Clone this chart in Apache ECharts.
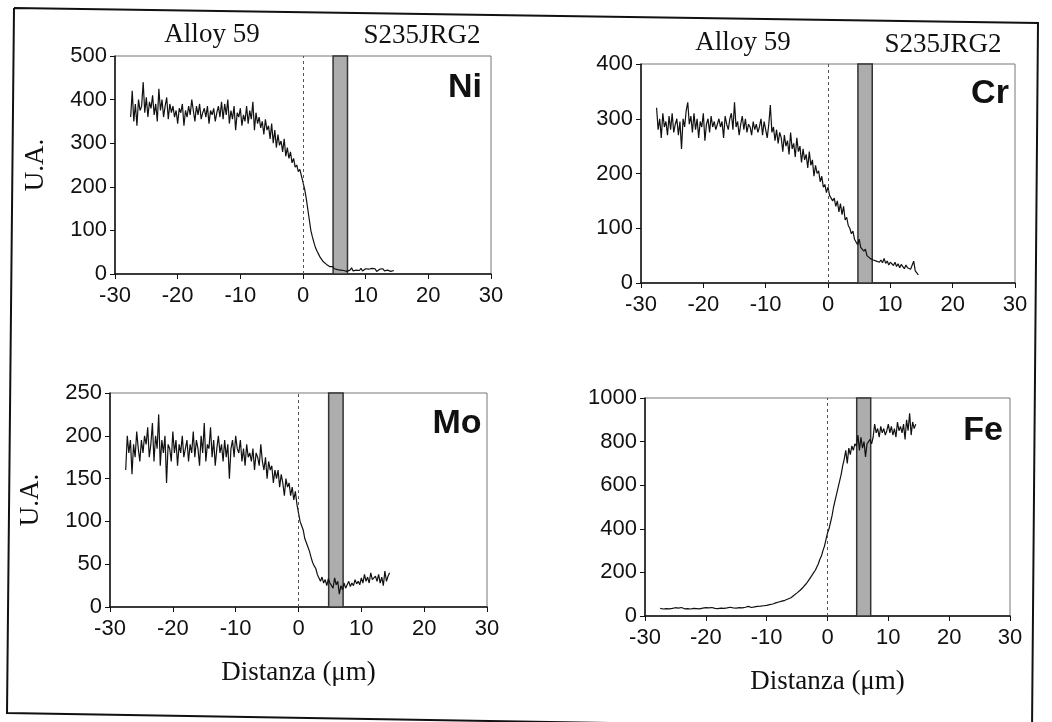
<!DOCTYPE html>
<html>
<head>
<meta charset="utf-8">
<script src="https://cdn.jsdelivr.net/npm/echarts@6/dist/echarts.min.js"></script>
<style>
html,body{margin:0;padding:0;background:#fff;}
#chart{width:1052px;height:722px;}
</style>
</head>
<body>
<div id="chart"></div>
<script>
// Sampled distance (µm)
const distance = [
-27.5,-27.25,-27,-26.75,-26.5,-26.25,-26,-25.75,
-25.5,-25.25,-25,-24.75,-24.5,-24.25,-24,-23.75,
-23.5,-23.25,-23,-22.75,-22.5,-22.25,-22,-21.75,
-21.5,-21.25,-21,-20.75,-20.5,-20.25,-20,-19.75,
-19.5,-19.25,-19,-18.75,-18.5,-18.25,-18,-17.75,
-17.5,-17.25,-17,-16.75,-16.5,-16.25,-16,-15.75,
-15.5,-15.25,-15,-14.75,-14.5,-14.25,-14,-13.75,
-13.5,-13.25,-13,-12.75,-12.5,-12.25,-12,-11.75,
-11.5,-11.25,-11,-10.75,-10.5,-10.25,-10,-9.75,
-9.5,-9.25,-9,-8.75,-8.5,-8.25,-8,-7.75,
-7.5,-7.25,-7,-6.75,-6.5,-6.25,-6,-5.75,
-5.5,-5.25,-5,-4.75,-4.5,-4.25,-4,-3.75,
-3.5,-3.25,-3,-2.75,-2.5,-2.25,-2,-1.75,
-1.5,-1.25,-1,-0.75,-0.5,-0.25,0,0.25,
0.5,0.75,1,1.25,1.5,1.75,2,2.25,
2.5,2.75,3,3.25,3.5,3.75,4,4.25,
4.5,4.75,5,5.25,5.5,5.75,6,6.25,
6.5,6.75,7,7.25,7.5,7.75,8,8.25,
8.5,8.75,9,9.25,9.5,9.75,10,10.25,
10.5,10.75,11,11.25,11.5,11.75,12,12.25,
12.5,12.75,13,13.25,13.5,13.75,14,14.25,
14.5];

const niValues = [
360,420,350,390,340,400,375,385,
440,370,405,360,395,380,410,365,
390,350,425,375,400,360,385,405,
355,390,370,385,360,375,345,380,
370,390,340,375,360,385,365,400,
375,350,385,365,390,355,370,380,
360,385,345,375,365,380,350,370,
385,360,395,355,390,365,400,345,
375,355,385,330,370,360,380,340,
365,350,385,345,375,355,395,330,
370,345,360,335,350,320,355,330,
340,310,345,300,330,290,320,295,
305,280,310,270,290,265,280,255,
265,245,250,235,240,225,210,195,
175,150,125,100,85,72,60,52,
45,38,33,28,25,22,19,17,
15,17,12,14,10,13,9,11,
8,12,6,10,9,14,7,11,
9,12,8,13,7,10,12,8,
11,7,13,9,12,6,10,11,
8,12,7,10,9,11,6,9,
8];

const crValues = [
320,280,300,265,310,285,295,270,
305,280,310,275,290,300,270,295,
245,300,285,315,330,290,305,275,
310,280,300,265,295,285,310,260,
290,300,275,305,285,295,280,290,
300,285,295,265,305,290,280,300,
310,280,330,285,295,270,290,305,
280,300,275,290,285,270,295,280,
290,275,285,300,270,295,280,265,
290,325,275,285,260,280,255,275,
265,240,270,250,260,235,275,245,
255,230,265,240,250,220,245,225,
235,210,240,215,225,195,215,200,
205,185,195,175,180,165,175,160,
160,150,155,140,150,130,145,125,
140,115,120,105,100,90,95,80,
75,70,80,65,68,58,62,50,
52,45,48,42,45,40,43,38,
42,37,45,36,40,33,38,35,
32,38,30,35,28,34,30,26,
33,28,30,25,28,40,22,24,
15];

const moValues = [
160,200,180,195,155,190,175,205,
185,170,195,180,200,190,210,175,
190,215,170,200,185,225,165,195,
180,200,145,190,185,170,205,180,
195,165,190,180,200,175,185,195,
170,190,180,205,175,195,185,165,
200,180,215,170,190,185,210,175,
195,165,185,200,180,190,170,195,
175,190,150,185,195,175,200,185,
180,195,170,185,165,190,175,180,
170,185,160,180,175,165,190,170,
160,175,150,170,160,165,145,160,
150,160,140,155,145,130,150,140,
145,130,140,125,135,120,110,100,
95,90,80,78,70,65,58,52,
48,45,38,40,30,35,28,32,
25,33,28,30,22,34,26,30,
15,25,20,28,22,26,30,24,
28,25,32,27,30,26,34,28,
38,30,35,28,40,32,30,36,
30,38,28,35,25,42,30,36,
40];

const feValues = [
35,38,32,36,34,40,33,37,
35,31,38,34,36,32,39,35,
33,37,34,38,32,36,35,38,
34,37,33,39,36,34,38,35,
37,34,39,36,35,40,34,38,
36,39,35,41,37,34,40,38,
37,40,36,42,38,41,37,43,
40,38,44,41,39,45,42,46,
44,48,45,50,47,52,49,55,
52,58,55,62,60,66,64,70,
68,75,72,80,78,86,84,92,
95,100,106,112,118,126,132,140,
148,158,165,178,185,200,210,225,
240,260,275,300,320,350,380,400,
430,460,500,530,560,590,620,650,
690,720,760,700,770,740,780,760,
790,780,830,760,820,770,800,730,
790,800,810,790,820,880,840,860,
820,870,840,860,830,850,880,840,
870,830,860,820,890,850,870,840,
880,810,900,850,930,830,890,860,
880];

const xTicks = [-30, -20, -10, 0, 10, 20, 30];
const interfaceBand = [4.8, 7.1];   // grey band (µm)
const interfaceLine = [0];          // dashed line (µm)
const elements = ['Ni', 'Cr', 'Mo', 'Fe'];
const yMax = [500, 400, 250, 1000];
const yStep = [100, 100, 50, 200];
const topLabels = ['Alloy 59', 'S235JRG2'];
const yName = 'U.A.';
const xName = 'Distanza (\u03bcm)';

const seriesValues = [niValues, crValues, moValues, feValues];

const grids = [
  {left: 115, top: 56, width: 376, height: 218},
  {left: 641, top: 64, width: 374, height: 219},
  {left: 110, top: 393, width: 377, height: 214},
  {left: 645, top: 398, width: 365, height: 218}
];

const sansFont = '"Liberation Sans", Arial, sans-serif';
const serifFont = '"Liberation Serif", "Times New Roman", serif';

const option = {
  animation: false,
  backgroundColor: '#fff',
  grid: grids.map(g => Object.assign({show: true, borderColor: '#777', borderWidth: 1, backgroundColor: 'transparent'}, g)),
  xAxis: grids.map((g, i) => ({
    type: 'value', gridIndex: i,
    min: xTicks[0], max: xTicks[xTicks.length - 1], interval: 10,
    axisLine: {onZero: false, lineStyle: {color: '#111', width: 1.5}},
    axisTick: {show: true, length: 5, lineStyle: {color: '#111'}},
    splitLine: {show: false},
    axisLabel: {color: '#111', fontSize: 22, fontFamily: sansFont, margin: 11},
    name: i >= 2 ? xName : '',
    nameLocation: 'middle', nameGap: 52,
    nameTextStyle: {fontFamily: serifFont, fontSize: 27, color: '#111'}
  })),
  yAxis: grids.map((g, i) => ({
    type: 'value', gridIndex: i,
    min: 0, max: yMax[i], interval: yStep[i],
    axisLine: {show: true, onZero: false, lineStyle: {color: '#111', width: 1.5}},
    axisTick: {show: true, length: 5, lineStyle: {color: '#111'}},
    splitLine: {show: false},
    axisLabel: {color: '#111', fontSize: 22, fontFamily: sansFont, margin: 8, formatter: v => String(v)},
    name: (i === 0 || i === 2) ? yName : '',
    nameLocation: 'middle', nameGap: 66,
    nameTextStyle: {fontFamily: serifFont, fontSize: 27, color: '#111'}
  })),
  series: seriesValues.map((vals, i) => ({
    type: 'line', xAxisIndex: i, yAxisIndex: i,
    name: elements[i],
    data: vals.map((v, k) => [distance[k], v]),
    symbol: 'none',
    lineStyle: {color: '#111', width: 1.2},
    z: 3,
    markArea: {
      silent: true,
      itemStyle: {color: '#adadad', borderColor: '#333', borderWidth: 1.5},
      data: [[{xAxis: interfaceBand[0]}, {xAxis: interfaceBand[1]}]]
    },
    markLine: {
      silent: true, symbol: 'none', label: {show: false},
      lineStyle: {color: '#555', type: [3, 3], width: 1},
      data: interfaceLine.map(x => ({xAxis: x}))
    }
  })),
  graphic: [
    {type: 'polyline', silent: true, z: 10,
     shape: {points: [[14, 8], [1038, 23], [1032, 730], [7, 713], [14, 8]]},
     style: {stroke: '#111', lineWidth: 2, fill: null}},
    {type: 'text', x: 212, y: 35, style: {text: topLabels[0], font: '27px ' + serifFont, fill: '#111', textAlign: 'center', textVerticalAlign: 'middle'}},
    {type: 'text', x: 422, y: 36, style: {text: topLabels[1], font: '27px ' + serifFont, fill: '#111', textAlign: 'center', textVerticalAlign: 'middle'}},
    {type: 'text', x: 743, y: 43, style: {text: topLabels[0], font: '27px ' + serifFont, fill: '#111', textAlign: 'center', textVerticalAlign: 'middle'}},
    {type: 'text', x: 943, y: 45, style: {text: topLabels[1], font: '27px ' + serifFont, fill: '#111', textAlign: 'center', textVerticalAlign: 'middle'}},
    {type: 'text', x: 465, y: 88, style: {text: elements[0], font: 'bold 34px ' + sansFont, fill: '#111', textAlign: 'center', textVerticalAlign: 'middle'}},
    {type: 'text', x: 990, y: 94, style: {text: elements[1], font: 'bold 34px ' + sansFont, fill: '#111', textAlign: 'center', textVerticalAlign: 'middle'}},
    {type: 'text', x: 457, y: 424, style: {text: elements[2], font: 'bold 34px ' + sansFont, fill: '#111', textAlign: 'center', textVerticalAlign: 'middle'}},
    {type: 'text', x: 983, y: 431, style: {text: elements[3], font: 'bold 34px ' + sansFont, fill: '#111', textAlign: 'center', textVerticalAlign: 'middle'}}
  ]
};

const chart = echarts.init(document.getElementById('chart'), null, {renderer: 'canvas'});
chart.setOption(option);
</script>
</body>
</html>
